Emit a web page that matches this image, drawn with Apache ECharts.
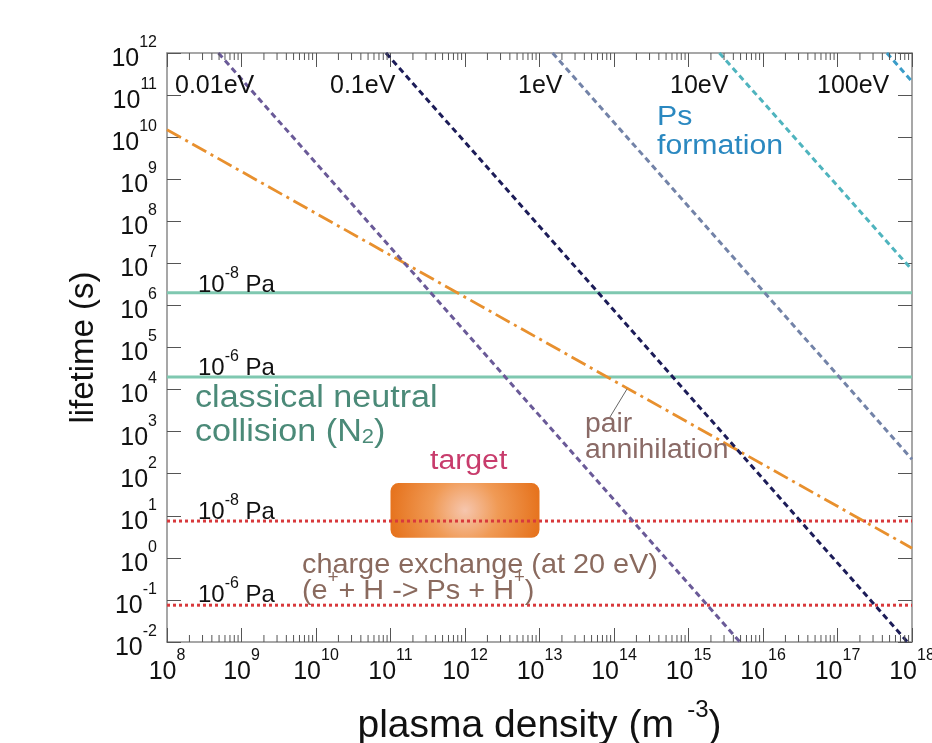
<!DOCTYPE html>
<html>
<head>
<meta charset="utf-8">
<script src="https://cdn.jsdelivr.net/npm/echarts@6/dist/echarts.min.js"></script>
<style>
html, body { margin: 0; padding: 0; background: #fff; }
#chart { width: 932px; height: 743px; }
</style>
</head>
<body>
<div id="chart"></div>
<script>
// axis ranges
const densityMin = 1e8, densityMax = 1e18;
const lifetimeMin = 1e-2, lifetimeMax = 1e12;

// classical neutral collision (N2)
const neutral8Pa = [[1e8, 2e6], [1e18, 2e6]];
const neutral6Pa = [[1e8, 2e4], [1e18, 2e4]];
// charge exchange (at 20 eV)
const chargeEx8Pa = [[1e8, 7.5], [1e18, 7.5]];
const chargeEx6Pa = [[1e8, 0.075], [1e18, 0.075]];
// pair annihilation
const pairAnnihilation = [[1e8, 1.5e10], [1e18, 1.7]];
// Ps formation, one line per positron energy
const ps001eV = [[4.9e8, 1e12], [4.9e15, 1e-2]];
const ps01eV = [[8.7e10, 1e12], [8.7e17, 1e-2]];
const ps1eV = [[1.5e13, 1e12], [1e18, 2.2e2]];
const ps10eV = [[2.6e15, 1e12], [1e18, 7e6]];
const ps100eV = [[4.6e17, 1e12], [1e18, 2.1e11]];
// target region: [density from, lifetime from, density to, lifetime to]
const targetBox = [[1e11, 3, 1e13, 60]];
// minor ticks on the density axis
const decades = [8, 9, 10, 11, 12, 13, 14, 15, 16, 17];
const mantissas = [2, 3, 4, 5, 6, 7, 8, 9];
const minorTicks = [];
decades.forEach(d => mantissas.forEach(m => minorTicks.push([m * Math.pow(10, d), lifetimeMin])));

const FONT = '"Liberation Sans", Arial, sans-serif';
const chart = echarts.init(document.getElementById('chart'));

function powLabel(v) {
    const n = Math.round(Math.log10(v));
    return '{b|10}{s|' + n + '}';
}
const powRich = {
    b: { fontSize: 25, lineHeight: 37, verticalAlign: 'bottom', fontFamily: FONT, color: '#111' },
    s: { fontSize: 16, lineHeight: 16, verticalAlign: 'top', fontFamily: FONT, color: '#111' }
};

function lineSeries(data, color, type, width) {
    return {
        type: 'line', data: data, symbol: 'none', silent: true,
        lineStyle: { color: color, type: type, width: width }, z: 3
    };
}

// text note, placed by its left edge and baseline
function note(x, base, text, size, color, rich, sx) {
    const lh = size + 8;
    const r = {};
    if (rich) {
        r.b = { fontSize: size, lineHeight: lh, verticalAlign: 'bottom', fontFamily: FONT, fill: color };
        r.s = { fontSize: Math.round(size * 0.65), lineHeight: Math.round(size * 0.65), verticalAlign: 'top', fontFamily: FONT, fill: color };
        r.d = { fontSize: Math.round(size * 0.65), lineHeight: lh, verticalAlign: 'bottom', fontFamily: FONT, fill: color };
    }
    return {
        type: 'text', x: x, y: rich ? base - lh / 2 - 0.35 * size : base - 0.85 * size,
        scaleX: sx || 1, z: 10, silent: true,
        style: {
            text: text, fill: color, fontSize: size, fontFamily: FONT,
            verticalAlign: 'top', align: 'left', rich: rich ? r : undefined
        }
    };
}

const axisLine = { show: true, onZero: false, lineStyle: { color: '#8a8a8a', width: 1.5 } };
const axisTick = { show: true, inside: true, length: 14, lineStyle: { color: '#555' } };

chart.setOption({
    animation: false,
    backgroundColor: '#fff',
    grid: { left: 167, right: 20, top: 53, bottom: 101, outerBoundsMode: 'none', containLabel: false },
    xAxis: [{
        type: 'log', logBase: 10, min: densityMin, max: densityMax, interval: 1,
        axisLine: axisLine, axisTick: axisTick,
        splitLine: { show: false },
        axisLabel: { margin: 6, formatter: powLabel, rich: powRich },
        name: '{a|plasma density (m}{s|  -3}{a|)}',
        nameLocation: 'middle', nameGap: 56,
        nameTextStyle: {
            rich: {
                a: { fontSize: 39, lineHeight: 48, verticalAlign: 'bottom', fontFamily: FONT, color: '#111' },
                s: { fontSize: 24, lineHeight: 22, verticalAlign: 'top', fontFamily: FONT, color: '#111' }
            }
        }
    }, {
        type: 'log', logBase: 10, min: densityMin, max: densityMax, interval: 1, position: 'top',
        axisLine: axisLine, axisTick: axisTick,
        splitLine: { show: false },
        axisLabel: { show: false }
    }],
    yAxis: [{
        type: 'log', logBase: 10, min: lifetimeMin, max: lifetimeMax, interval: 1,
        axisLine: axisLine, axisTick: axisTick,
        splitLine: { show: false },
        axisLabel: { margin: 10, formatter: powLabel, rich: powRich },
        name: 'lifetime (s)', nameLocation: 'middle', nameGap: 67,
        nameTextStyle: { fontSize: 33, fontFamily: FONT, color: '#111' }
    }, {
        type: 'log', logBase: 10, min: lifetimeMin, max: lifetimeMax, interval: 1, position: 'right',
        axisLine: axisLine, axisTick: axisTick,
        splitLine: { show: false },
        axisLabel: { show: false }
    }],
    series: [
        {
            type: 'custom', silent: true, z: 1,
            data: targetBox,
            encode: { x: [0, 2], y: [1, 3] },
            renderItem: function (params, api) {
                const p1 = api.coord([api.value(0), api.value(3)]);
                const p2 = api.coord([api.value(2), api.value(1)]);
                return {
                    type: 'rect',
                    shape: { x: p1[0], y: p1[1], width: p2[0] - p1[0], height: p2[1] - p1[1], r: 8 },
                    style: {
                        fill: new echarts.graphic.RadialGradient(0.5, 0.5, 1.35, [
                            { offset: 0, color: '#f6c6ae' },
                            { offset: 0.45, color: '#f09a55' },
                            { offset: 1, color: '#e6741f' }
                        ])
                    }
                };
            }
        },
        {
            type: 'custom', silent: true, z: 5, clip: false,
            data: minorTicks,
            renderItem: function (params, api) {
                const pb = api.coord([api.value(0), lifetimeMin]);
                const pt = api.coord([api.value(0), lifetimeMax]);
                return {
                    type: 'group',
                    children: [
                        { type: 'line', shape: { x1: pb[0], y1: pb[1], x2: pb[0], y2: pb[1] - 7 }, style: { stroke: '#555', lineWidth: 1 } },
                        { type: 'line', shape: { x1: pt[0], y1: pt[1], x2: pt[0], y2: pt[1] + 7 }, style: { stroke: '#555', lineWidth: 1 } }
                    ]
                };
            }
        },
        lineSeries(neutral8Pa, '#7fc8b0', 'solid', 3),
        lineSeries(neutral6Pa, '#7fc8b0', 'solid', 3),
        lineSeries(chargeEx8Pa, '#d8393c', [3, 3], 3),
        lineSeries(chargeEx6Pa, '#d8393c', [3, 3], 3),
        lineSeries(pairAnnihilation, '#e8902e', [16, 5, 3, 5], 2.8),
        lineSeries(ps001eV, '#6a5a98', [6, 4], 3),
        lineSeries(ps01eV, '#1c1c58', [6, 4], 3),
        lineSeries(ps1eV, '#7383a8', [6, 4], 3),
        lineSeries(ps10eV, '#4fb4be', [6, 4], 3),
        lineSeries(ps100eV, '#3a9cc8', [6, 4], 3)
    ],
    graphic: [
        note(175, 95, '0.01eV', 25, '#111'),
        note(330, 95, '0.1eV', 25, '#111'),
        note(518, 95, '1eV', 25, '#111'),
        note(670, 95, '10eV', 25, '#111'),
        note(817, 95, '100eV', 25, '#111'),
        note(657, 127, 'Ps', 27, '#2a88c0', false, 1.12),
        note(657, 156, 'formation', 27, '#2a88c0', false, 1.12),
        note(198, 290, '{b|10}{s|-8}{b| Pa}', 24, '#111', true),
        note(198, 373, '{b|10}{s|-6}{b| Pa}', 24, '#111', true),
        note(195, 409, 'classical neutral', 31, '#4b8a78', false, 1.1),
        note(195, 439, '{b|collision (N}{d|2}{b|)}', 31, '#4b8a78', true, 1.1),
        note(430, 471, 'target', 27, '#c83c6c', false, 1.12),
        note(585, 434, 'pair', 27, '#8a6a66', false, 1.05),
        note(585, 460, 'annihilation', 27, '#8a6a66', false, 1.05),
        note(198, 517, '{b|10}{s|-8}{b| Pa}', 24, '#111', true),
        note(302, 575, 'charge exchange (at 20 eV)', 28, '#8a6a5e', false, 1.03),
        note(302, 597, '{b|(e}{s|+}{b|+ H -> Ps + H}{s|+}{b|)}', 28, '#8a6a5e', true, 1.03),
        note(198, 600, '{b|10}{s|-6}{b| Pa}', 24, '#111', true),
        {
            type: 'line', z: 10, silent: true,
            shape: { x1: 627, y1: 389, x2: 610, y2: 417 },
            style: { stroke: '#666', lineWidth: 1 }
        }
    ]
});
</script>
</body>
</html>
